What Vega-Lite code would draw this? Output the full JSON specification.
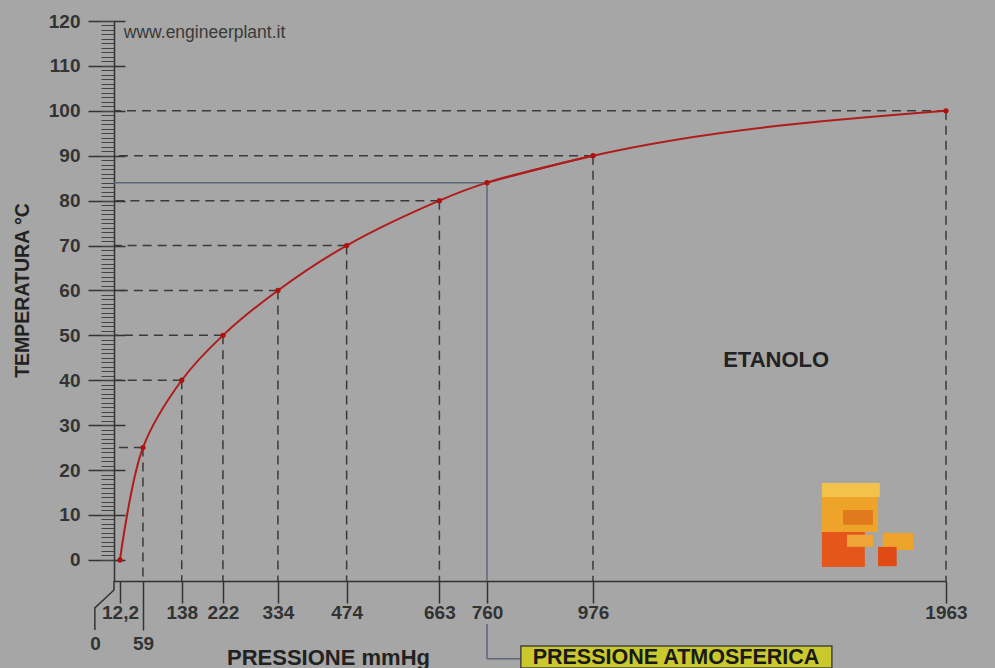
{
  "$schema": "https://vega.github.io/schema/vega-lite/v6.json",
  "width": 881,
  "height": 560,
  "autosize": "none",
  "padding": {"left": 114, "top": 21, "right": 0, "bottom": 87},
  "background": "#a6a6a6",
  "config": {"view": {"stroke": null}, "font": "Liberation Sans"},
  "datasets": {
    "pts": [
      {"p": 12.2, "t": 0},
      {"p": 59, "t": 25},
      {"p": 138, "t": 40},
      {"p": 222, "t": 50},
      {"p": 334, "t": 60},
      {"p": 474, "t": 70},
      {"p": 663, "t": 80},
      {"p": 760, "t": 84},
      {"p": 976, "t": 90},
      {"p": 1963, "t": 100}
    ]
  },
  "resolve": {"axis": {"x": "independent", "y": "independent"}},
  "layer": [
    {
      "data": {"name": "pts"},
      "transform": [{"filter": "datum.p != 12.2 && datum.p != 760"}],
      "mark": {"type": "rule", "color": "#3a3a3a", "strokeWidth": 1.5, "strokeDash": [9, 6]},
      "encoding": {
        "x": {"field": "p", "type": "quantitative",
          "scale": {"type": "linear", "domain": [0, 976, 1963], "range": [0, 479, 832], "nice": false, "zero": false},
          "axis": {"orient": "bottom", "values": [12.2, 138, 222, 334, 474, 663, 760, 976, 1963],
            "tickSize": 22, "tickWidth": 1.5, "tickColor": "#333", "domainColor": "#333", "domainWidth": 1.5,
            "labelPadding": 0, "labelFontSize": 19, "labelFontWeight": "bold", "labelColor": "#333",
            "labelFont": "Liberation Sans", "labelFlush": false, "labelOverlap": false, "grid": false, "title": null,
            "labelExpr": "datum.value == 12.2 ? '12,2' : format(datum.value, 'd')"}},
        "x2": {"datum": 0},
        "y": {"field": "t", "type": "quantitative",
          "scale": {"domain": [-4.7, 120], "nice": false, "zero": false},
          "axis": {"orient": "left", "values": [0, 10, 20, 30, 40, 50, 60, 70, 80, 90, 100, 110, 120],
            "offset": -11, "tickSize": 37, "tickWidth": 1.5, "tickColor": "#333", "domain": false,
            "labelPadding": 8, "labelFontSize": 19, "labelFontWeight": "bold", "labelColor": "#333",
            "labelFont": "Liberation Sans", "labelFlush": false, "labelOverlap": false, "grid": false, "title": null,
            "labelExpr": "format(datum.value, 'd')"}}
      }
    },
    {
      "data": {"name": "pts"},
      "transform": [{"filter": "datum.p != 12.2 && datum.p != 760"}],
      "mark": {"type": "rule", "color": "#3a3a3a", "strokeWidth": 1.5, "strokeDash": [9, 6]},
      "encoding": {
        "x": {"field": "p", "type": "quantitative",
          "scale": {"type": "linear", "domain": [0, 976, 1963], "range": [0, 479, 832], "nice": false, "zero": false},
          "axis": {"orient": "bottom", "values": [0, 59], "domain": false,
            "tickSize": 49, "tickWidth": 1.5, "tickColor": "#333",
            "tickOpacity": {"condition": {"test": "datum.value == 0", "value": 0}, "value": 1},
            "labelOffset": {"condition": {"test": "datum.value == 0", "value": -19}, "value": 0},
            "labelPadding": 4, "labelFontSize": 19, "labelFontWeight": "bold", "labelColor": "#333",
            "labelFont": "Liberation Sans", "labelFlush": false, "labelOverlap": false, "grid": false,
            "labelExpr": "format(datum.value, 'd')",
            "title": "PRESSIONE mmHg", "titleFont": "Liberation Sans", "titleFontSize": 22, "titleFontWeight": "bold",
            "titleColor": "#222", "titleX": 214, "titleY": 76, "titleAlign": "center", "titleBaseline": "middle"}},
        "y": {"field": "t", "type": "quantitative",
          "scale": {"domain": [-4.7, 120], "nice": false, "zero": false},
          "axis": {"orient": "left",
            "values": [0,1,2,3,4,5,6,7,8,9,10,11,12,13,14,15,16,17,18,19,20,21,22,23,24,25,26,27,28,29,30,31,32,33,34,35,36,37,38,39,40,41,42,43,44,45,46,47,48,49,50,51,52,53,54,55,56,57,58,59,60,61,62,63,64,65,66,67,68,69,70,71,72,73,74,75,76,77,78,79,80,81,82,83,84,85,86,87,88,89,90,91,92,93,94,95,96,97,98,99,100,101,102,103,104,105,106,107,108,109,110,111,112,113,114,115,116,117,118,119,120],
            "tickSize": 13, "tickWidth": 1, "tickColor": "#444", "labels": false,
            "domain": true, "domainColor": "#333", "domainWidth": 1.5, "grid": false,
            "title": "TEMPERATURA °C", "titleFont": "Liberation Sans", "titleFontSize": 19.5, "titleFontWeight": "bold",
            "titleColor": "#222", "titleX": -92, "titleY": 269, "titleAngle": -90, "titleAlign": "center", "titleBaseline": "middle"}},
        "y2": {"datum": -4.7}
      }
    },
    {
      "mark": {"type": "rule", "color": "#333", "strokeWidth": 1.5},
      "encoding": {"y": {"datum": 120, "type": "quantitative", "axis": null}}
    },
    {
      "data": {"values": [
        {"seg": "h", "p": 0, "t": 84, "o": 1},
        {"seg": "h", "p": 760, "t": 84, "o": 2},
        {"seg": "v", "p": 760, "t": 84, "o": 1},
        {"seg": "v", "p": 760, "t": -4.7, "o": 2},
        {"seg": "l", "p": 760, "t": -14.3, "o": 1},
        {"seg": "l", "p": 760, "t": -22, "o": 2},
        {"seg": "l", "p": 829, "t": -22, "o": 3}
      ]},
      "mark": {"type": "line", "color": "#5f6678", "strokeWidth": 1.5},
      "encoding": {
        "x": {"field": "p", "type": "quantitative", "axis": null},
        "y": {"field": "t", "type": "quantitative", "axis": null},
        "detail": {"field": "seg"},
        "order": {"field": "o"}
      }
    },
    {
      "data": {"values": [
        {"p": 0, "t": -4.7, "o": 1},
        {"p": 0, "t": -6.7, "o": 2},
        {"p": -39, "t": -10.7, "o": 3},
        {"p": -39, "t": -15.6, "o": 4}
      ]},
      "mark": {"type": "line", "color": "#333", "strokeWidth": 1.5},
      "encoding": {
        "x": {"field": "p", "type": "quantitative", "axis": null},
        "y": {"field": "t", "type": "quantitative", "axis": null},
        "order": {"field": "o"}
      }
    },
    {
      "data": {"name": "pts"},
      "transform": [{"filter": "datum.p <= 976"}],
      "mark": {"type": "line", "color": "#b01c1c", "strokeWidth": 2, "interpolate": "catmull-rom"},
      "encoding": {
        "x": {"field": "p", "type": "quantitative", "axis": null},
        "y": {"field": "t", "type": "quantitative", "axis": null}
      }
    },
    {
      "data": {"name": "pts"},
      "transform": [{"filter": "datum.p >= 760"}],
      "mark": {"type": "line", "color": "#b01c1c", "strokeWidth": 2, "interpolate": "monotone"},
      "encoding": {
        "x": {"field": "p", "type": "quantitative", "axis": null},
        "y": {"field": "t", "type": "quantitative", "axis": null}
      }
    },
    {
      "data": {"name": "pts"},
      "mark": {"type": "circle", "color": "#b01010", "size": 28, "opacity": 1},
      "encoding": {
        "x": {"field": "p", "type": "quantitative", "axis": null},
        "y": {"field": "t", "type": "quantitative", "axis": null}
      }
    },
    {
      "data": {"values": [{"p": 829, "p2": 1644, "t": -19.2, "t2": -24.1}]},
      "mark": {"type": "rect", "fill": "#c9c92e", "stroke": "#444", "strokeWidth": 1.5},
      "encoding": {
        "x": {"field": "p", "type": "quantitative", "axis": null},
        "x2": {"field": "p2"},
        "y": {"field": "t", "type": "quantitative", "axis": null},
        "y2": {"field": "t2"}
      }
    },
    {
      "data": {"values": [{"label": "PRESSIONE ATMOSFERICA", "p": 1208, "t": -21.8}]},
      "mark": {"type": "text", "font": "Liberation Sans", "fontSize": 21.5, "fontWeight": "bold", "color": "#1a1a1a", "align": "center", "baseline": "middle"},
      "encoding": {
        "x": {"field": "p", "type": "quantitative", "axis": null},
        "y": {"field": "t", "type": "quantitative", "axis": null},
        "text": {"field": "label"}
      }
    },
    {
      "data": {"values": [{"label": "ETANOLO", "p": 1488, "t": 44.5}]},
      "mark": {"type": "text", "font": "Liberation Sans", "fontSize": 22, "fontWeight": "bold", "color": "#222", "align": "center", "baseline": "middle"},
      "encoding": {
        "x": {"field": "p", "type": "quantitative", "axis": null},
        "y": {"field": "t", "type": "quantitative", "axis": null},
        "text": {"field": "label"}
      }
    },
    {
      "data": {"values": [{"label": "www.engineerplant.it", "p": 20, "t": 117.3}]},
      "mark": {"type": "text", "font": "Liberation Sans", "fontSize": 17.5, "color": "#3a3a3a", "align": "left", "baseline": "middle"},
      "encoding": {
        "x": {"field": "p", "type": "quantitative", "axis": null},
        "y": {"field": "t", "type": "quantitative", "axis": null},
        "text": {"field": "label"}
      }
    },
    {
      "data": {"values": [
        {"part": "top", "p": 1616, "p2": 1778, "t": 17.1, "t2": 14.0},
        {"part": "upper", "p": 1616, "p2": 1773, "t": 14.0, "t2": 6.2},
        {"part": "notch", "p": 1675, "p2": 1759, "t": 11.1, "t2": 7.8},
        {"part": "lower", "p": 1616, "p2": 1736, "t": 6.2, "t2": -1.6},
        {"part": "notch2", "p": 1686, "p2": 1759, "t": 5.6, "t2": 2.9},
        {"part": "dottop", "p": 1786, "p2": 1871, "t": 6.0, "t2": 2.2},
        {"part": "dot", "p": 1773, "p2": 1825, "t": 2.9, "t2": -1.4}
      ]},
      "mark": {"type": "rect"},
      "encoding": {
        "x": {"field": "p", "type": "quantitative", "axis": null},
        "x2": {"field": "p2"},
        "y": {"field": "t", "type": "quantitative", "axis": null},
        "y2": {"field": "t2"},
        "color": {"field": "part", "type": "nominal", "legend": null,
          "scale": {"domain": ["top", "upper", "notch", "lower", "notch2", "dottop", "dot"],
            "range": ["#f2c24a", "#eea42a", "#e07a1c", "#e4561a", "#eea436", "#eea42a", "#e04a14"]}}
      }
    }
  ]
}
